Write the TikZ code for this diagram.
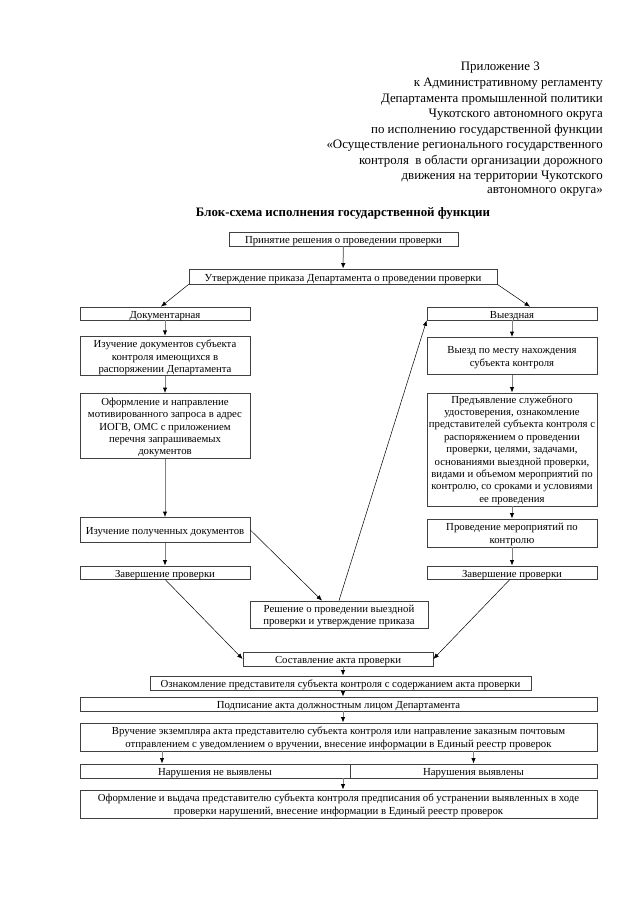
\documentclass[tikz,border=0pt]{standalone}
\usepackage{fontspec}
\setmainfont{Liberation Serif}
\usetikzlibrary{arrows.meta}
\newcommand{\tp}{\rule{0pt}{10.4pt}}
\tikzset{
  box/.style={draw=black!75, line width=0.7pt, align=center, inner sep=1pt,
    font=\fontsize{10.75}{12.4}\selectfont},
  one/.style={box, align=none, text height=9pt, text depth=0pt},
  arr/.style={-{Latex[length=5.5pt,width=4.5pt,color=black]}, gray, line width=1pt},
  darr/.style={-{Latex[length=5.5pt,width=4.5pt]}, black, line width=0.5pt},
  hdr/.style={anchor=east, inner sep=0pt, font=\fontsize{12.9}{15.5}\selectfont}
}
\begin{document}
\begin{tikzpicture}[x=1pt,y=-1pt]
  \useasboundingbox (0,0) rectangle (640,905);
  % header
  \node[hdr] (h0) at (540,68) {Приложение 3};
  \foreach \t [count=\i] in {к Административному регламенту,
      Департамента промышленной политики, Чукотского автономного округа,
      по исполнению государственной функции,
      «Осуществление регионального государственного,
      контроля\ \ в области организации дорожного,
      движения на территории Чукотского, автономного округа»}
    \node[hdr] (h\i) at (603,{68+15.5*\i}) {\t};
  \node[font=\fontsize{12.9}{15.5}\selectfont\bfseries] (title) at (343,213)
    {Блок-схема исполнения государственной функции};
  % top
  \node[one, minimum width=229, minimum height=14] (start) at (343.5,239) {Принятие решения о проведении проверки};
  \node[one, minimum width=308, minimum height=15] (order) at (343,276.5) {Утверждение приказа Департамента о проведении проверки};
  % left column
  \node[one, minimum width=170, minimum height=13] (doc) at (165,313.5) {Документарная};
  \node[box, minimum width=170, minimum height=37] (study) at (165,356) {\tp Изучение документов субъекта\\контроля имеющихся в\\распоряжении Департамента};
  \node[box, minimum width=170, minimum height=65] (query) at (165,426) {\tp Оформление и направление\\мотивированного запроса в адрес\\ИОГВ, ОМС с приложением\\перечня запрашиваемых\\документов};
  \node[one, minimum width=170, minimum height=25] (recv) at (165,530) {Изучение полученных документов};
  \node[one, minimum width=170, minimum height=13] (endL) at (165,572.5) {Завершение проверки};
  % right column
  \node[one, minimum width=170, minimum height=13] (field) at (512,313.5) {Выездная};
  \node[box, minimum width=170, minimum height=37] (trip) at (512,356) {\tp Выезд по месту нахождения\\субъекта контроля};
  \node[box, minimum width=170, minimum height=113] (show) at (512,449.5) {\strut Предъявление служебного\\удостоверения, ознакомление\\представителей субъекта контроля с\\распоряжением о проведении\\проверки, целями, задачами,\\основаниями выездной проверки,\\видами и объемом мероприятий по\\контролю, со сроками и условиями\\ее проведения};
  \node[box, minimum width=170, minimum height=28] (actions) at (512,533) {\tp Проведение мероприятий по\\контролю};
  \node[one, minimum width=170, minimum height=13] (endR) at (512,572.5) {Завершение проверки};
  % middle and bottom
  \node[box, minimum width=178, minimum height=27] (decide) at (339,614.5) {\tp Решение о проведении выездной\\проверки и утверждение приказа};
  \node[one, minimum width=190, minimum height=14] (act) at (338,659) {Составление акта проверки};
  \node[one, minimum width=381, minimum height=14] (acq) at (340.5,683) {Ознакомление представителя субъекта контроля с содержанием акта проверки};
  \node[one, minimum width=517, minimum height=14] (sign) at (338.5,704) {Подписание акта должностным лицом Департамента};
  \node[box, minimum width=517, minimum height=28] (hand) at (338.5,737) {\tp Вручение экземпляра акта представителю субъекта контроля или направление заказным почтовым\\отправлением с уведомлением о вручении, внесение информации в Единый реестр проверок};
  \node[one, minimum width=270, minimum height=14] (nofound) at (215,771) {Нарушения не выявлены};
  \node[one, minimum width=247, minimum height=14] (found) at (473.5,771) {Нарушения выявлены};
  \node[box, minimum width=517, minimum height=28] (order2) at (338.5,804) {\tp Оформление и выдача представителю субъекта контроля предписания об устранении выявленных в ходе\\проверки нарушений, внесение информации в Единый реестр проверок};
  \coordinate (cl) at (162,0);
  \coordinate (cm) at (343,0);
  % arrows
  \draw[arr] (start) -- (order);
  \draw[arr] (doc) -- (study);
  \draw[arr] (study) -- (query);
  \draw[arr] (query) -- (recv);
  \draw[arr] (recv) -- (endL);
  \draw[arr] (field) -- (trip);
  \draw[arr] (trip) -- (show);
  \draw[arr] (show) -- (actions);
  \draw[arr] (actions) -- (endR);
  \draw[arr] (act.south -| cm) -- (acq.north -| cm);
  \draw[arr] (acq.south -| cm) -- (sign.north -| cm);
  \draw[arr] (sign.south -| cm) -- (hand.north -| cm);
  \draw[arr] (hand.south -| cl) -- (nofound.north -| cl);
  \draw[arr] (hand.south -| found.north) -- (found.north);
  \draw[arr] (nofound.south -| cm) -- (order2.north -| cm);
  \draw[darr] (order.south west) -- ([xshift=-4]doc.north);
  \draw[darr] (order.south east) -- ([xshift=18]field.north);
  \draw[darr] (recv.east) -- ([xshift=-17]decide.north);
  \draw[darr] (decide.north) -- (field.south west);
  \draw[darr] (endL.south) -- (act.west);
  \draw[darr] ([xshift=-2]endR.south) -- (act.east);
\end{tikzpicture}
\end{document}
